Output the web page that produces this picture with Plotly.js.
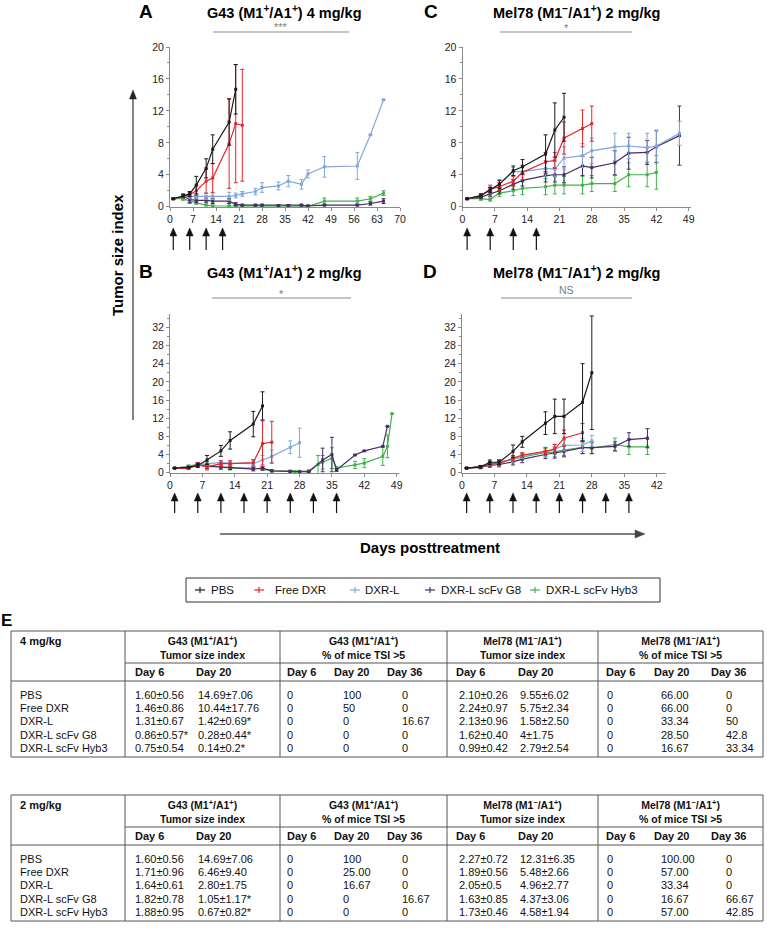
<!DOCTYPE html>
<html>
<head>
<meta charset="utf-8">
<script src="https://cdn.plot.ly/plotly-3.0.1.min.js"></script>
<style>html,body{margin:0;padding:0;background:#fff}#chart{width:767px;height:939px}</style>
</head>
<body>
<div id="chart"></div>
<script>
// ---------------- DATA ----------------
const seriesNames = ['PBS','Free DXR','DXR-L','DXR-L scFv G8','DXR-L scFv Hyb3'];
const seriesColors = ['#1b1b1b','#e5252a','#7fa7dc','#4a2b68','#3fb44b'];

// Panel A: G43 (M1+/A1+) 4 mg/kg
const A_PBS_x = [1,4,6,8,11,13,18,20];
const A_PBS_y = [1.0,1.4,1.6,2.7,4.8,7.2,10.6,14.7];
const A_PBS_e = [0.05,0.2,0.3,1.1,1.2,1.8,2.9,3.1];
const A_DXR_x = [1,4,6,8,11,13,18,20,22];
const A_DXR_y = [1.0,1.3,1.5,2.0,3.2,3.6,7.9,10.4,10.2];
const A_DXR_e = [0.05,0.2,0.3,0.6,1.5,1.8,5.6,7.4,7.0];
const A_L_x = [1,4,6,8,11,13,18,20,22,26,28,33,36,40,42,47,57,61,65];
const A_L_y = [1.0,1.3,1.3,1.3,1.3,1.3,1.3,1.4,1.6,1.9,2.4,2.6,3.2,2.8,4.1,5.0,5.1,9.0,13.4];
const A_L_e = [0.05,0.2,0.3,0.3,0.4,0.4,0.5,0.3,0.3,0.4,0.6,0.5,0.7,0.6,0.5,1.3,1.7,0,0];
const A_G8_x = [1,4,6,8,11,13,18,20,22,26,28,33,36,40,42,47,57,61,65];
const A_G8_y = [1.0,1.3,0.9,0.8,0.8,0.7,0.7,0.3,0.2,0.2,0.2,0.15,0.15,0.2,0.1,0.2,0.2,0.4,0.7];
const A_G8_e = [0.05,0.2,0.4,0.3,0.3,0.3,0.3,0.2,0.1,0.1,0.1,0.1,0.1,0.1,0.1,0.1,0.1,0.2,0.3];
const A_H3_x = [1,4,6,8,11,13,18,20,22,26,28,33,36,40,42,47,57,61,65];
const A_H3_y = [1.0,1.0,0.7,0.5,0.2,0.1,0.1,0.1,0.1,0.1,0.1,0.1,0.1,0.1,0.05,0.7,0.7,1.0,1.7];
const A_H3_e = [0.05,0.2,0.3,0.2,0.1,0.1,0.1,0.1,0.1,0.1,0.1,0.1,0.1,0.1,0.05,0.4,0.4,0.3,0.3];

// Panel C: Mel78 (M1-/A1+) 2 mg/kg (top)
const C_PBS_x = [1,4,6,8,11,13,18,20,22];
const C_PBS_y = [1.0,1.4,2.1,2.8,4.5,5.0,6.6,9.6,11.2];
const C_PBS_e = [0.05,0.2,0.3,0.5,0.6,0.9,2.4,3.4,3.0];
const C_DXR_x = [1,4,6,8,11,13,18,20,22,26,28];
const C_DXR_y = [1.0,1.4,2.2,2.5,3.2,4.3,5.6,5.8,8.6,9.8,10.4];
const C_DXR_e = [0.05,0.2,0.5,0.5,0.6,0.9,1.2,1.0,2.0,2.3,2.2];
const C_L_x = [1,4,6,8,11,13,18,20,22,26,28,33,36,40,42,47];
const C_L_y = [1.0,1.4,2.1,2.9,4.4,4.4,4.8,4.7,6.1,6.4,7.0,7.5,7.6,7.4,7.6,9.2];
const C_L_e = [0.05,0.2,0.4,0.5,0.5,0.7,1.0,1.0,1.4,1.5,1.6,1.7,1.6,1.8,2.0,1.5];
const C_G8_x = [1,4,6,8,11,13,18,20,22,26,28,33,36,40,42,47];
const C_G8_y = [1.0,1.2,1.6,2.0,2.8,3.3,3.9,4.0,4.0,5.1,4.9,5.5,6.7,6.8,7.5,8.9];
const C_G8_e = [0.05,0.2,0.3,0.4,0.6,0.7,0.8,0.9,1.0,1.2,1.3,1.5,2.0,1.5,2.0,3.7];
const C_H3_x = [1,4,6,8,11,13,18,20,22,26,28,33,36,40,42];
const C_H3_y = [1.0,1.0,0.9,1.7,2.0,2.3,2.5,2.7,2.7,2.7,2.9,2.9,4.0,4.0,4.3];
const C_H3_e = [0.05,0.2,0.2,0.4,0.6,0.8,1.0,1.1,1.1,1.1,1.0,1.0,1.5,1.5,2.1];

// Panel B: G43 (M1+/A1+) 2 mg/kg
const B_PBS_x = [1,4,6,8,11,13,18,20];
const B_PBS_y = [1.0,1.2,1.6,2.8,4.8,7.1,10.7,14.7];
const B_PBS_e = [0.05,0.2,0.4,1.0,1.2,1.9,2.8,3.1];
const B_DXR_x = [1,4,6,8,11,13,18,20,22];
const B_DXR_y = [1.0,0.9,1.7,1.3,2.0,2.0,2.2,6.4,6.7];
const B_DXR_e = [0.05,0.2,0.5,0.7,0.6,0.6,0.7,5.0,4.6];
const B_L_x = [1,4,6,8,11,13,18,20,22,26,28];
const B_L_y = [1.0,1.3,1.6,2.0,2.2,2.1,2.0,2.8,3.6,5.6,6.6];
const B_L_e = [0.05,0.2,0.3,0.5,0.5,0.6,0.6,1.0,1.4,1.4,3.2];
const B_G8_x = [1,4,6,8,11,13,18,20,22,26,28,30,33,35,36,40,42,46,47];
const B_G8_y = [1.0,1.2,1.8,1.4,1.3,1.2,0.8,1.0,0.4,0.3,0.2,0.2,2.8,4.0,0.6,3.9,4.8,5.8,10.2];
const B_G8_e = [0.05,0.2,0.4,0.5,0.5,0.5,0.4,0.4,0.2,0.2,0.1,0.1,2.6,3.8,0.3,0,0,0,0];
const B_H3_x = [1,4,6,8,11,13,18,20,22,26,27,28,30,32,33,35,36,40,42,46,47,48];
const B_H3_y = [1.0,1.4,1.9,1.8,1.2,1.0,1.0,0.8,0.4,0.3,0.2,0.3,0.4,1.8,2.3,3.2,1.0,1.7,2.1,3.6,5.8,13.0];
const B_H3_e = [0.05,0.3,0.3,0.3,0.4,0.4,0.3,0.3,0.2,0.2,0.1,0.2,0.2,2.0,1.5,2.3,0.4,0.8,1.0,2.0,2.5,0];

// Panel D: Mel78 (M1-/A1+) 2 mg/kg (bottom)
const D_PBS_x = [1,4,6,8,11,13,18,20,22,26,28];
const D_PBS_y = [1.0,1.3,2.3,2.3,4.7,6.8,10.9,12.4,12.4,15.5,22.0];
const D_PBS_e = [0.05,0.3,0.5,0.5,1.4,1.2,2.5,3.8,3.8,8.5,12.5];
const D_DXR_x = [1,4,6,8,11,13,18,20,22,26];
const D_DXR_y = [1.0,1.3,1.9,2.0,3.2,3.9,4.7,5.2,7.6,8.8];
const D_DXR_e = [0.05,0.2,0.4,0.4,0.6,0.5,0.8,1.0,1.8,2.0];
const D_L_x = [1,4,6,8,11,13,18,20,22,26,28];
const D_L_y = [1.0,1.3,2.0,2.3,3.0,3.7,4.6,5.2,6.0,6.1,7.0];
const D_L_e = [0.05,0.2,0.4,0.4,0.7,0.6,1.0,1.1,1.2,1.4,1.2];
const D_G8_x = [1,4,6,8,11,13,18,20,22,26,28,33,36,40];
const D_G8_y = [1.0,1.3,1.6,1.8,2.4,3.0,4.0,4.3,4.7,5.5,5.5,5.8,7.3,7.6];
const D_G8_e = [0.05,0.2,0.4,0.5,0.7,0.8,0.9,1.1,1.2,1.3,1.3,1.0,1.5,2.1];
const D_H3_x = [1,4,6,8,11,13,18,20,22,26,28,33,36,40];
const D_H3_y = [1.0,1.1,1.7,2.4,2.9,3.5,4.4,4.6,5.0,5.6,5.4,6.2,5.7,5.7];
const D_H3_e = [0.05,0.2,0.4,0.4,0.7,0.7,0.9,1.1,1.2,1.4,1.2,1.4,1.7,1.7];

// Treatment days (arrows)
const treatA = [1,6,11,16];
const treatC = [1,6,11,16];
const treatB = [1,6,11,16,21,26,31,36];
const treatD = [1,6,11,16,21,26,31,36];

// Panel texts
const panelTitles = ['G43 (M1<sup>+</sup>/A1<sup>+</sup>) 4 mg/kg','Mel78 (M1<sup>−</sup>/A1<sup>+</sup>) 2 mg/kg',
                     'G43 (M1<sup>+</sup>/A1<sup>+</sup>) 2 mg/kg','Mel78 (M1<sup>−</sup>/A1<sup>+</sup>) 2 mg/kg'];
const panelLetters = ['A','C','B','D'];
const sigLabels = ['***','*','*','NS'];

// Table E
const groupHdr1 = ['G43 (M1<sup>+</sup>/A1<sup>+</sup>)','G43 (M1<sup>+</sup>/A1<sup>+</sup>)','Mel78 (M1<sup>−</sup>/A1<sup>+</sup>)','Mel78 (M1<sup>−</sup>/A1<sup>+</sup>)'];
const groupHdr2 = ['Tumor size index','% of mice TSI &gt;5','Tumor size index','% of mice TSI &gt;5'];
const dayHdr = ['Day 6','Day 20','Day 6','Day 20','Day 36','Day 6','Day 20','Day 6','Day 20','Day 36'];
const doseLabels = ['4 mg/kg','2 mg/kg'];
const t4_PBS  = ['1.60±0.56','14.69±7.06','0','100','0','2.10±0.26','9.55±6.02','0','66.00','0'];
const t4_DXR  = ['1.46±0.86','10.44±17.76','0','50','0','2.24±0.97','5.75±2.34','0','66.00','0'];
const t4_L    = ['1.31±0.67','1.42±0.69*','0','0','16.67','2.13±0.96','1.58±2.50','0','33.34','50'];
const t4_G8   = ['0.86±0.57*','0.28±0.44*','0','0','0','1.62±0.40','4±1.75','0','28.50','42.8'];
const t4_H3   = ['0.75±0.54','0.14±0.2*','0','0','0','0.99±0.42','2.79±2.54','0','16.67','33.34'];
const t2_PBS  = ['1.60±0.56','14.69±7.06','0','100','0','2.27±0.72','12.31±6.35','0','100.00','0'];
const t2_DXR  = ['1.71±0.96','6.46±9.40','0','25.00','0','1.89±0.56','5.48±2.66','0','57.00','0'];
const t2_L    = ['1.64±0.61','2.80±1.75','0','16.67','0','2.05±0.5','4.96±2.77','0','33.34','0'];
const t2_G8   = ['1.82±0.78','1.05±1.17*','0','0','16.67','1.63±0.85','4.37±3.06','0','16.67','66.67'];
const t2_H3   = ['1.88±0.95','0.67±0.82*','0','0','0','1.73±0.46','4.58±1.94','0','57.00','42.85'];

// ---------------- BUILD ----------------
const W = 767, H = 939;
const PX = v => v / W, PY = v => 1 - v / H;
const FONT = 'Liberation Sans, Arial, sans-serif';
const AX = '#8a8a8a';

const geo = {
  A:{x0:170, x1:400, y0:206.7, y1:47,    xr:[0,70],   yr:[0,20]},
  C:{x0:462.5,x1:691,y0:206.7, y1:47,    xr:[0,49.5], yr:[0,20]},
  B:{x0:170, x1:399, y0:472.7, y1:313.7, xr:[0,49.5], yr:[0,35]},
  D:{x0:462, x1:666, y0:472.7, y1:313.7, xr:[0,44],   yr:[0,35]}
};
function xa(g, anchor){
  return {domain:[PX(g.x0),PX(g.x1)], range:g.xr, anchor:anchor, tickmode:'linear', tick0:0, dtick:7,
    showline:true, linecolor:AX, linewidth:1, ticks:'outside', ticklen:3, tickcolor:AX, showgrid:false,
    zeroline:false, tickfont:{family:FONT,size:10.5,color:'#222'}, fixedrange:true};
}
function ya(g, anchor){
  return {domain:[PY(g.y0),PY(g.y1)], range:g.yr, anchor:anchor, tickmode:'linear', tick0:0, dtick:4,
    showline:true, linecolor:AX, linewidth:1, ticks:'outside', ticklen:3, tickcolor:AX, showgrid:false,
    zeroline:false, tickfont:{family:FONT,size:10.5,color:'#222'}, fixedrange:true,
    minor:{dtick:2, ticks:'outside', ticklen:2, tickcolor:AX}};
}

const traces = [];
function addSeries(xs, ys, es, si, xaxis, yaxis){
  traces.push({type:'scatter', mode:'lines+markers', x:xs, y:ys, xaxis:xaxis, yaxis:yaxis,
    name:seriesNames[si], showlegend:false, hoverinfo:'skip', cliponaxis:false,
    line:{color:seriesColors[si], width:1.2},
    marker:{color:seriesColors[si], size:3, symbol:'square'},
    error_y:{type:'data', array:es, visible:true, color:seriesColors[si], thickness:1, width:2}});
}
const panelSeries = [
  ['x','y',  [[A_PBS_x,A_PBS_y,A_PBS_e],[A_DXR_x,A_DXR_y,A_DXR_e],[A_L_x,A_L_y,A_L_e],[A_G8_x,A_G8_y,A_G8_e],[A_H3_x,A_H3_y,A_H3_e]]],
  ['x2','y2',[[C_PBS_x,C_PBS_y,C_PBS_e],[C_DXR_x,C_DXR_y,C_DXR_e],[C_L_x,C_L_y,C_L_e],[C_G8_x,C_G8_y,C_G8_e],[C_H3_x,C_H3_y,C_H3_e]]],
  ['x3','y3',[[B_PBS_x,B_PBS_y,B_PBS_e],[B_DXR_x,B_DXR_y,B_DXR_e],[B_L_x,B_L_y,B_L_e],[B_G8_x,B_G8_y,B_G8_e],[B_H3_x,B_H3_y,B_H3_e]]],
  ['x4','y4',[[D_PBS_x,D_PBS_y,D_PBS_e],[D_DXR_x,D_DXR_y,D_DXR_e],[D_L_x,D_L_y,D_L_e],[D_G8_x,D_G8_y,D_G8_e],[D_H3_x,D_H3_y,D_H3_e]]]
];
panelSeries.forEach(p => {
  [4,3,2,1,0].forEach(si => addSeries(p[2][si][0], p[2][si][1], p[2][si][2], si, p[0], p[1]));
});

const ann = [];
const shapes = [];
function txt(x, y, text, o){
  o = o || {};
  ann.push({xref:'paper', yref:'paper', x:PX(x), y:PY(y), text:text, showarrow:false,
    xanchor:o.xa || 'center', yanchor:'middle', textangle:o.angle || 0, borderpad:0,
    font:{family:FONT, size:o.size || 10.5, color:o.color || '#111'}});
}
function line(x0, y0, x1, y1, color, w){
  shapes.push({type:'line', xref:'paper', yref:'paper', x0:PX(x0), y0:PY(y0), x1:PX(x1), y1:PY(y1),
    line:{color:color, width:w}});
}
// arrowhead (filled triangle) drawn in pixels around an anchor point
function head(xref, xAnchor, yAnchor, dir, color, hw, hl){
  let p;
  if (dir === 'up')    p = `M0,0 L${-hw},${-hl} L${hw},${-hl} Z`;
  if (dir === 'right') p = `M0,0 L${-hl},${hw} L${-hl},${-hw} Z`;
  shapes.push({type:'path', xref:xref, yref:'paper', xsizemode:'pixel', ysizemode:'pixel',
    xanchor:xAnchor, yanchor:yAnchor, path:p, fillcolor:color, line:{color:color, width:0.5}});
}

// Panel letters / titles / significance
const letterPos = [[146,11],[431,11],[146,271],[430,271]];
const titlePos = [[284,12],[576,12],[284,272],[576,272]];
const sigPos = [[213,349,32,27],[500,632,32,28],[212,351,298,294],[501,632,298,290]];
for (let i = 0; i < 4; i++){
  txt(letterPos[i][0], letterPos[i][1], '<b>' + panelLetters[i] + '</b>', {size:19, color:'#000'});
  txt(titlePos[i][0], titlePos[i][1], '<b>' + panelTitles[i] + '</b>', {size:14.5, color:'#000'});
  const s = sigPos[i];
  line(s[0], s[2], s[1], s[2], '#8c8c8c', 1.2);
  txt((s[0] + s[1]) / 2, s[3], sigLabels[i], {size:i === 3 ? 10.5 : 11, color:'#7a7a7a'});
}

// Treatment arrows (shaft + head, positioned on each panel's day axis)
function treatArrows(days, xref, headY, tailY){
  days.forEach(d => {
    shapes.push({type:'line', xref:xref, yref:'paper', x0:d, x1:d, y0:PY(tailY), y1:PY(headY + 6),
      line:{color:'#111', width:1.2}});
    head(xref, d, PY(headY), 'up', '#111', 3.5, 8);
  });
}
treatArrows(treatA, 'x', 228, 250);
treatArrows(treatC, 'x2', 228, 250);
treatArrows(treatB, 'x3', 493, 513);
treatArrows(treatD, 'x4', 493, 513);

// Axis labels with arrows
line(133, 420, 133, 96, '#333', 1.2);
head('paper', PX(133), PY(90), 'up', '#222', 3.5, 9);
txt(118, 255, '<b>Tumor size index</b>', {size:15, angle:-90, color:'#000'});
line(220, 534, 638, 534, '#555', 1.5);
head('paper', PX(645), PY(534), 'right', '#444', 4, 10);
txt(430, 547, '<b>Days posttreatment</b>', {size:15, color:'#000'});

// Legend
shapes.push({type:'rect', xref:'paper', yref:'paper', x0:PX(186), y0:PY(578), x1:PX(660), y1:PY(602),
  line:{color:'#333', width:1}, fillcolor:'rgba(0,0,0,0)'});
const legMarkX = [200, 259, 355, 430, 535];
const legTextX = [210, 274, 364, 440, 545];
for (let i = 0; i < 5; i++){
  line(legMarkX[i] - 5, 590, legMarkX[i] + 5, 590, seriesColors[i], 1.2);
  line(legMarkX[i], 587, legMarkX[i], 593, seriesColors[i], 1.2);
  txt(legTextX[i], 590, seriesNames[i], {xa:'left', size:11.5, color:'#111'});
}
txt(6, 620, '<b>E</b>', {size:17, color:'#000'});

// Tables
const L = 11, B1 = 125, B2 = 280, B3 = 447, B4 = 598, R = 763;
const groupBounds = [[B1,B2],[B2,B3],[B3,B4],[B4,R]];
const hdrX = [B1+9,B1+70,B2+6,B2+53,B2+106,B3+8,B3+70,B4+7,B4+55,B4+112];
const valX = [B1+9,B1+72,B2+6,B2+62,B2+121,B3+11,B3+72,B4+8,B4+62,B4+127];
const TF = 11;
function drawTable(top, dose, rows){
  const bot = top + 126, TC = '#555';
  shapes.push({type:'rect', xref:'paper', yref:'paper', x0:PX(L), y0:PY(top), x1:PX(R), y1:PY(bot),
    line:{color:TC, width:1}, fillcolor:'rgba(0,0,0,0)'});
  [B1,B2,B3,B4].forEach(b => line(b, top, b, bot, TC, 1));
  line(B1, top + 32, R, top + 32, TC, 1);
  line(L, top + 50, R, top + 50, TC, 1);
  txt(L + 8, top + 10, '<b>' + dose + '</b>', {xa:'left', size:TF});
  for (let g = 0; g < 4; g++){
    const cx = (groupBounds[g][0] + groupBounds[g][1]) / 2;
    txt(cx, top + 16, '<b>' + groupHdr1[g] + '<br>' + groupHdr2[g] + '</b>', {size:10.5});
  }
  for (let c = 0; c < 10; c++) txt(hdrX[c], top + 41, '<b>' + dayHdr[c] + '</b>', {xa:'left', size:TF});
  rows.forEach((r, i) => {
    const y = top + 64 + 13.2 * i;
    txt(L + 8, y, seriesNames[i], {xa:'left', size:TF});
    for (let c = 0; c < 10; c++) txt(valX[c], y, r[c], {xa:'left', size:TF});
  });
}
drawTable(631, doseLabels[0], [t4_PBS, t4_DXR, t4_L, t4_G8, t4_H3]);
drawTable(795, doseLabels[1], [t2_PBS, t2_DXR, t2_L, t2_G8, t2_H3]);

const layout = {
  width:W, height:H, margin:{l:0,r:0,t:0,b:0}, paper_bgcolor:'#fff', plot_bgcolor:'rgba(0,0,0,0)',
  showlegend:false, font:{family:FONT},
  xaxis:xa(geo.A,'y'), yaxis:ya(geo.A,'x'),
  xaxis2:xa(geo.C,'y2'), yaxis2:ya(geo.C,'x2'),
  xaxis3:xa(geo.B,'y3'), yaxis3:ya(geo.B,'x3'),
  xaxis4:xa(geo.D,'y4'), yaxis4:ya(geo.D,'x4'),
  annotations:ann, shapes:shapes
};
Plotly.newPlot('chart', traces, layout, {staticPlot:true, displayModeBar:false});
</script>
</body>
</html>
